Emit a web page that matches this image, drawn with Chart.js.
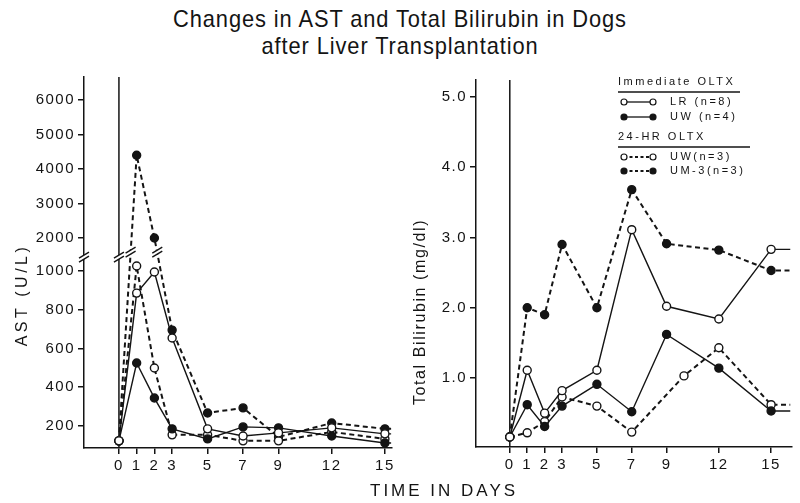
<!DOCTYPE html>
<html>
<head>
<meta charset="utf-8">
<script src="https://cdn.jsdelivr.net/npm/chart.js@4.4.1/dist/chart.umd.min.js"></script>
<style>
  body { margin: 0; background: #fff; }
  #wrap { position: relative; width: 800px; height: 503px; overflow: hidden; color: #141414;
          font-family: "Liberation Sans", Arial, sans-serif; }
  canvas { position: absolute; top: 0; }
  #astChart { left: 0; }
  #bilChart { left: 400px; }
  .title { position: absolute; left: 0; top: 5px; width: 800px; text-align: center;
           font-size: 24px; line-height: 27px; letter-spacing: 1px;
           transform: scaleX(0.91); transform-origin: 400px 0; }
  .xtitle { position: absolute; top: 481px; left: 370px; font-size: 17px; letter-spacing: 3px; }
</style>
</head>
<body>
<div id="wrap">
  <div class="title">Changes in AST and Total Bilirubin in Dogs<br>after Liver Transplantation</div>
  <canvas id="astChart" width="400" height="503"></canvas>
  <canvas id="bilChart" width="400" height="503"></canvas>
  <div class="xtitle">TIME IN DAYS</div>
</div>
<script>
// days after transplant (last entry = short line tail past day 15)
const dayTicks = [0, 1, 2, 3, 5, 7, 9, 12, 15];
const astDays = [0, 1, 2, 3, 5, 7, 9, 12, 15, 15.35];
const bilDays = [0, 1, 2, 3, 5, 7, 9, 12, 15, 16.1];
const bilDaysUW24 = [0, 1, 2, 3, 5, 7, 10, 12, 15, 16.1];

const astTicks = [200, 400, 600, 800, 1000, 2000, 3000, 4000, 5000, 6000];
const bilTicks = [1, 2, 3, 4, 5];

// AST (U/L)
const astLR = [123, 886, 995, 654, 185, 148, 164, 190, 159, 159];
const astUW = [123, 525, 344, 185, 133, 195, 190, 148, 112, 112];
const astUW24 = [123, 1026, 499, 154, 154, 123, 123, 169, 133, 133];
const astUM3 = [123, 4400, 2000, 695, 267, 293, 143, 215, 185, 185];

// Total bilirubin (mg/dl)
const bilLR = [0.16, 1.11, 0.5, 0.82, 1.11, 3.11, 2.02, 1.84, 2.83, 2.83];
const bilUW = [0.16, 0.62, 0.31, 0.6, 0.91, 0.52, 1.62, 1.14, 0.53, 0.53];
const bilUW24 = [0.16, 0.22, 0.38, 0.73, 0.6, 0.23, 1.03, 1.43, 0.62, 0.62];
const bilUM3 = [0.16, 2.0, 1.9, 2.9, 2.0, 3.68, 2.91, 2.82, 2.53, 2.53];

const ink = "#141414";
const tickFont = { family: "'Liberation Sans', Arial, sans-serif", size: 15 };

// linear scale with a gap between breakLow and breakHigh
class BrokenLinearScale extends Chart.LinearScale {
  getPixelForValue(value) {
    const { breakLow, breakHigh, breakAt } = this.options;
    let f;
    if (value <= breakLow) f = breakAt * (value - this.min) / (breakLow - this.min);
    else if (value >= breakHigh) f = breakAt + (1 - breakAt) * (value - breakHigh) / (this.max - breakHigh);
    else f = breakAt;
    return this.bottom - f * (this.bottom - this.top);
  }
  getValueForPixel(pixel) {
    const { breakLow, breakHigh, breakAt } = this.options;
    const f = (this.bottom - pixel) / (this.bottom - this.top);
    if (f <= breakAt) return this.min + (breakLow - this.min) * f / breakAt;
    return breakHigh + (this.max - breakHigh) * (f - breakAt) / (1 - breakAt);
  }
}
BrokenLinearScale.id = "brokenLinear";
BrokenLinearScale.defaults = Chart.LinearScale.defaults;
Chart.register(BrokenLinearScale);

function series(label, xs, ys, filled, dashed) {
  return {
    label,
    data: xs.map((x, i) => ({ x, y: ys[i] })),
    borderColor: ink,
    borderWidth: dashed ? 2 : 1.4,
    borderDash: dashed ? [5, 3.5] : [],
    pointRadius: (ctx) => (ctx.dataIndex === xs.length - 1 ? 0 : 4),
    pointBackgroundColor: filled ? ink : "#fff",
    pointBorderColor: ink,
    pointBorderWidth: 1.4,
    tension: 0,
  };
}

function slash(ctx, cx, cy) {
  // "//" break mark with white gap
  ctx.save();
  ctx.fillStyle = "#fff";
  ctx.beginPath();
  ctx.moveTo(cx - 5, cy + 4); ctx.lineTo(cx + 5, cy - 2);
  ctx.lineTo(cx + 5, cy - 6); ctx.lineTo(cx - 5, cy);
  ctx.closePath(); ctx.fill();
  ctx.strokeStyle = ink; ctx.lineWidth = 1.4; ctx.setLineDash([]);
  ctx.beginPath();
  ctx.moveTo(cx - 5, cy + 4); ctx.lineTo(cx + 5, cy - 2);
  ctx.moveTo(cx - 5, cy); ctx.lineTo(cx + 5, cy - 6);
  ctx.stroke();
  ctx.restore();
}

const decor = {
  id: "decor",
  beforeLayout(chart) { chart.ctx.letterSpacing = "1.5px"; },
  beforeDraw(chart) { chart.ctx.letterSpacing = "1.5px"; },
  beforeDatasetsDraw(chart) {
    const { ctx, chartArea } = chart;
    const x0 = chart.scales.x.getPixelForValue(0);
    ctx.save();
    ctx.strokeStyle = ink; ctx.lineWidth = 1.5;
    ctx.beginPath(); ctx.moveTo(x0, chartArea.top); ctx.lineTo(x0, chartArea.bottom); ctx.stroke();
    ctx.restore();
  },
  afterDatasetsDraw(chart, args, opts) {
    const { ctx, chartArea } = chart;
    if (opts.broken) {
      const y = chart.scales.y;
      const yb = y.getPixelForValue(y.options.breakLow);
      slash(ctx, chartArea.left, yb);
      slash(ctx, chart.scales.x.getPixelForValue(0), yb);
      chart.data.datasets.forEach((ds, di) => {
        const pts = chart.getDatasetMeta(di).data;
        for (let i = 1; i < pts.length; i++) {
          const a = pts[i - 1], b = pts[i];
          const target = yb - 5;
          if ((a.y - target) * (b.y - target) < 0) {
            const t = (target - a.y) / (b.y - a.y);
            slash(ctx, a.x + t * (b.x - a.x), target);
          }
        }
      });
    }
    ctx.save();
    ctx.fillStyle = ink;
    ctx.font = "16px 'Liberation Sans', Arial, sans-serif";
    ctx.letterSpacing = opts.spacing;
    ctx.translate(opts.tx, opts.ty);
    ctx.rotate(-Math.PI / 2);
    ctx.textAlign = "center"; ctx.textBaseline = "middle";
    ctx.fillText(opts.text, 0, 0);
    ctx.restore();
  },
};

const legendBox = {
  id: "legendBox",
  afterDraw(chart) {
    const ctx = chart.ctx;
    ctx.save();
    ctx.fillStyle = ink; ctx.strokeStyle = ink;
    ctx.font = "11px 'Liberation Sans', Arial, sans-serif";
    ctx.letterSpacing = "2.5px";
    ctx.textBaseline = "middle";
    const rows = [
      { head: "Immediate OLTX", y: 82, line: 122 },
      { label: "LR (n=8)", y: 102, filled: false, dashed: false },
      { label: "UW (n=4)", y: 117, filled: true, dashed: false },
      { head: "24-HR OLTX", y: 137, line: 132 },
      { label: "UW(n=3)", y: 157, filled: false, dashed: true },
      { label: "UM-3(n=3)", y: 171, filled: true, dashed: true },
    ];
    rows.forEach((r) => {
      if (r.head) {
        ctx.fillText(r.head, 218, r.y);
        ctx.lineWidth = 1.5; ctx.setLineDash([]);
        ctx.beginPath(); ctx.moveTo(218, r.y + 10); ctx.lineTo(218 + r.line, r.y + 10); ctx.stroke();
        return;
      }
      ctx.lineWidth = r.dashed ? 1.8 : 1.3;
      ctx.setLineDash(r.dashed ? [3, 2.5] : []);
      ctx.beginPath(); ctx.moveTo(224, r.y); ctx.lineTo(253, r.y); ctx.stroke();
      ctx.setLineDash([]); ctx.lineWidth = 1.2;
      [224, 253].forEach((cx) => {
        ctx.beginPath(); ctx.arc(cx, r.y, 3, 0, Math.PI * 2);
        ctx.fillStyle = r.filled ? ink : "#fff"; ctx.fill(); ctx.stroke();
      });
      ctx.fillStyle = ink;
      ctx.fillText(r.label, 270, r.y);
    });
    ctx.restore();
  },
};

function axisCommon(extra) {
  return Object.assign({
    grid: { drawOnChartArea: false, drawTicks: true, tickLength: 6, color: ink, lineWidth: 1.5 },
    border: { display: true, color: ink, width: 1.5 },
    ticks: { color: ink, font: tickFont, padding: 3, autoSkip: false, maxRotation: 0 },
  }, extra);
}

new Chart(document.getElementById("astChart"), {
  type: "line",
  data: {
    datasets: [
      series("LR (n=8)", astDays, astLR, false, false),
      series("UW (n=4)", astDays, astUW, true, false),
      series("UW(n=3)", astDays, astUW24, false, true),
      series("UM-3(n=3)", astDays, astUM3, true, true),
    ],
  },
  options: {
    responsive: false, animation: false, devicePixelRatio: 1,
    layout: { padding: { top: 77, right: 8, left: 0, bottom: 0 } },
    plugins: {
      legend: { display: false }, tooltip: { enabled: false },
      decor: { broken: true, text: "AST (U/L)", tx: 23, ty: 295, spacing: "3.5px" },
    },
    scales: {
      x: axisCommon({
        type: "linear", min: -1.97, max: 15.4,
        afterBuildTicks: (s) => { s.ticks = dayTicks.map((v) => ({ value: v })); },
        afterFit: (s) => { s.height = 55; },
      }),
      y: axisCommon({
        type: "brokenLinear", min: 86, max: 6670,
        breakLow: 1067, breakHigh: 1420, breakAt: 0.512,
        afterBuildTicks: (s) => { s.ticks = astTicks.map((v) => ({ value: v })); },
        afterFit: (s) => { s.width = 84; },
        ticks: { color: ink, font: tickFont, padding: 3, autoSkip: false, callback: (v) => String(v) },
      }),
    },
  },
  plugins: [decor],
});

new Chart(document.getElementById("bilChart"), {
  type: "line",
  data: {
    datasets: [
      series("LR (n=8)", bilDays, bilLR, false, false),
      series("UW (n=4)", bilDays, bilUW, true, false),
      series("UW(n=3)", bilDaysUW24, bilUW24, false, true),
      series("UM-3(n=3)", bilDays, bilUM3, true, true),
    ],
  },
  options: {
    responsive: false, animation: false, devicePixelRatio: 1,
    layout: { padding: { top: 80, right: 8, left: 0, bottom: 0 } },
    plugins: {
      legend: { display: false }, tooltip: { enabled: false },
      decor: { broken: false, text: "Total Bilirubin (mg/dl)", tx: 21, ty: 312, spacing: "1.6px" },
    },
    scales: {
      x: axisCommon({
        type: "linear", min: -1.94, max: 16.2,
        afterBuildTicks: (s) => { s.ticks = dayTicks.map((v) => ({ value: v })); },
        afterFit: (s) => { s.height = 56; },
      }),
      y: axisCommon({
        type: "linear", min: 0.018, max: 5.24,
        afterBuildTicks: (s) => { s.ticks = bilTicks.map((v) => ({ value: v })); },
        afterFit: (s) => { s.width = 76; },
        ticks: { color: ink, font: tickFont, padding: 3, autoSkip: false, callback: (v) => v.toFixed(1) },
      }),
    },
  },
  plugins: [decor, legendBox],
});
</script>
</body>
</html>
